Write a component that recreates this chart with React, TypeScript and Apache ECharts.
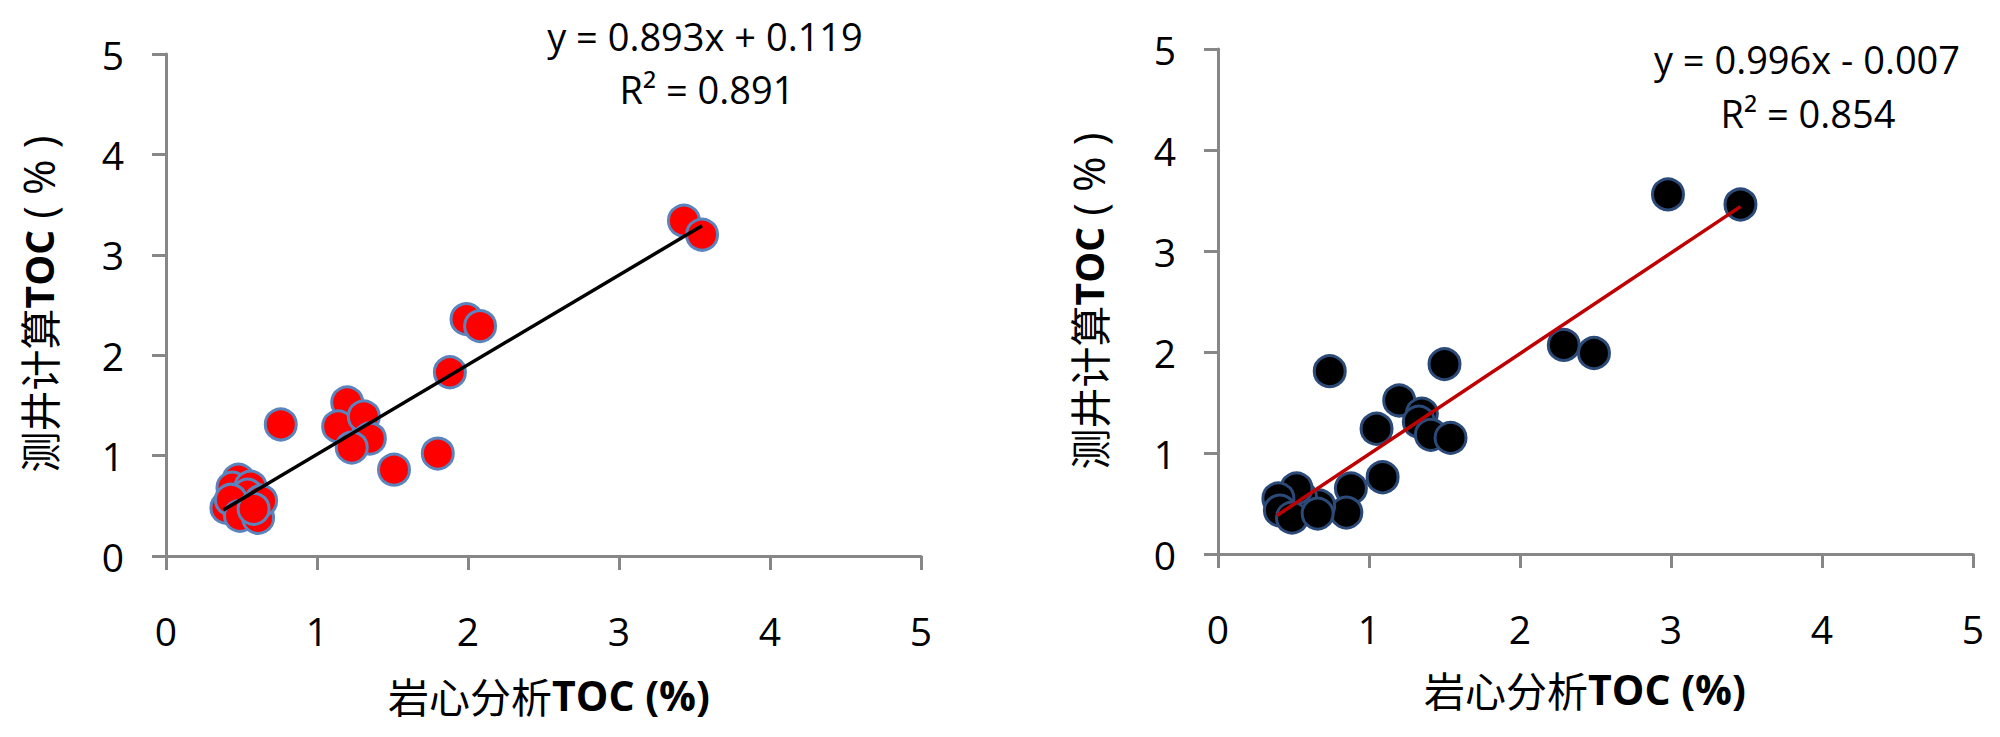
import React, { useEffect, useRef } from "react";
import * as echarts from "echarts";

// Left panel: 岩心分析TOC vs 测井计算TOC (red points)
const leftX = [3.43, 3.55, 1.99, 2.08, 1.88, 0.76, 1.20, 1.14, 1.31, 1.35, 1.23, 1.51, 1.80, 0.48, 0.44, 0.56, 0.54, 0.40, 0.43, 0.49, 0.61, 0.63, 0.58];
const leftY = [3.34, 3.20, 2.36, 2.29, 1.83, 1.31, 1.53, 1.29, 1.39, 1.17, 1.08, 0.86, 1.02, 0.76, 0.68, 0.69, 0.61, 0.48, 0.56, 0.40, 0.38, 0.55, 0.47];
// Right panel (black points)
const rightX = [2.98, 3.46, 2.29, 2.49, 0.74, 1.50, 1.20, 1.35, 1.33, 1.41, 1.54, 1.05, 1.09, 0.88, 0.85, 0.67, 0.55, 0.52, 0.40, 0.41, 0.49, 0.66];
const rightY = [3.56, 3.46, 2.07, 1.99, 1.81, 1.88, 1.52, 1.39, 1.31, 1.18, 1.15, 1.24, 0.76, 0.65, 0.41, 0.48, 0.56, 0.65, 0.55, 0.43, 0.36, 0.40];
// Trend line end points (as drawn)
const leftTrendX = [0.38, 3.55];
const leftTrendY = [0.458, 3.289];
const rightTrendX = [0.39, 3.46];
const rightTrendY = [0.381, 3.439];

const tickValues = [0, 1, 2, 3, 4, 5];
const leftEquation = ["y = 0.893x + 0.119", "R² = 0.891"];
const rightEquation = ["y = 0.996x - 0.007", "R² = 0.854"];
const xTitle = ["岩心分析", "TOC (%)"];
const yTitle = ["测井计算", "TOC", " ( % )"];

const LATIN = '"Open Sans", "Noto Sans", sans-serif';
const CJK = '"Noto Sans CJK SC", "Noto Sans", sans-serif';
const AXIS_COLOR = "#878787";

const zip = (xs: number[], ys: number[]) => xs.map((x, i) => [x, ys[i]]);

function axisCommon(gridIndex: number, isX: boolean) {
  return {
    type: "value",
    gridIndex,
    min: tickValues[0],
    max: tickValues[tickValues.length - 1],
    interval: 1,
    splitLine: { show: false },
    axisLine: { show: true, onZero: false, lineStyle: { color: AXIS_COLOR, width: 3 } },
    axisTick: { show: true, inside: false, length: 14, lineStyle: { color: AXIS_COLOR, width: 3 } },
    axisLabel: {
      show: true,
      margin: isX ? 55 : 42,
      color: "#000",
      fontFamily: LATIN,
      fontSize: 39,
    },
  };
}

export default function App() {
  const ref = useRef<HTMLDivElement>(null);
  useEffect(() => {
    if (!ref.current) return;
    const chart = echarts.init(ref.current, undefined, { renderer: "svg" });
    const eqStyle = (text: string, x: number, y: number) => ({
      type: "text",
      x,
      y,
      style: {
        text,
        fill: "#000",
        font: `38px ${LATIN}`,
        align: "center",
        verticalAlign: "middle",
      },
    });
    const xTitleEl = (x: number, y: number) => ({
      type: "text",
      x,
      y,
      style: {
        text: `{a|${xTitle[0]}}{b|${xTitle[1]}}`,
        align: "center",
        verticalAlign: "middle",
        rich: {
          a: { fontFamily: CJK, fontSize: 41, fill: "#000", color: "#000" },
          b: { fontFamily: LATIN, fontSize: 41, fontWeight: "bold", fill: "#000", color: "#000" },
        },
      },
    });
    const yTitleEl = (x: number, y: number) => ({
      type: "text",
      x,
      y,
      rotation: Math.PI / 2,
      style: {
        text: `{a|${yTitle[0]}}{b|${yTitle[1]}}{c|${yTitle[2]}}`,
        align: "center",
        verticalAlign: "middle",
        rich: {
          a: { fontFamily: CJK, fontSize: 41, fill: "#000", color: "#000" },
          b: { fontFamily: LATIN, fontSize: 39, fontWeight: "bold", fill: "#000", color: "#000" },
          c: { fontFamily: LATIN, fontSize: 43, fill: "#000", color: "#000" },
        },
      },
    });
    chart.setOption({
      animation: false,
      backgroundColor: "#fff",
      grid: [
        { left: 166, top: 54, width: 755, height: 502 },
        { left: 1218, top: 49, width: 755, height: 505 },
      ],
      xAxis: [axisCommon(0, true), axisCommon(1, true)],
      yAxis: [axisCommon(0, false), axisCommon(1, false)],
      series: [
        {
          type: "scatter",
          xAxisIndex: 0,
          yAxisIndex: 0,
          data: zip(leftX, leftY),
          symbol: "circle",
          symbolSize: 31,
          itemStyle: { color: "#ff0000", borderColor: "#5a84bd", borderWidth: 3, opacity: 1 },
          z: 2,
        },
        {
          type: "line",
          xAxisIndex: 0,
          yAxisIndex: 0,
          data: zip(leftTrendX, leftTrendY),
          showSymbol: false,
          symbol: "none",
          lineStyle: { color: "#000", width: 3.5 },
          z: 3,
        },
        {
          type: "scatter",
          xAxisIndex: 1,
          yAxisIndex: 1,
          data: zip(rightX, rightY),
          symbol: "circle",
          symbolSize: 31,
          itemStyle: { color: "#000000", borderColor: "#2b4a78", borderWidth: 3, opacity: 1 },
          z: 2,
        },
        {
          type: "line",
          xAxisIndex: 1,
          yAxisIndex: 1,
          data: zip(rightTrendX, rightTrendY),
          showSymbol: false,
          symbol: "none",
          lineStyle: { color: "#c00000", width: 3.5 },
          z: 3,
        },
      ],
      graphic: [
        eqStyle(leftEquation[0], 705, 36),
        eqStyle(leftEquation[1], 707, 89),
        eqStyle(rightEquation[0], 1807, 59),
        eqStyle(rightEquation[1], 1808, 113),
        xTitleEl(549, 695),
        xTitleEl(1585, 689),
        yTitleEl(38, 304),
        yTitleEl(1088, 301),
      ],
    });
    return () => chart.dispose();
  }, []);
  return (
    <div
      ref={ref}
      style={{ position: "fixed", left: 0, top: 0, width: 2000, height: 737, background: "#fff" }}
    />
  );
}
